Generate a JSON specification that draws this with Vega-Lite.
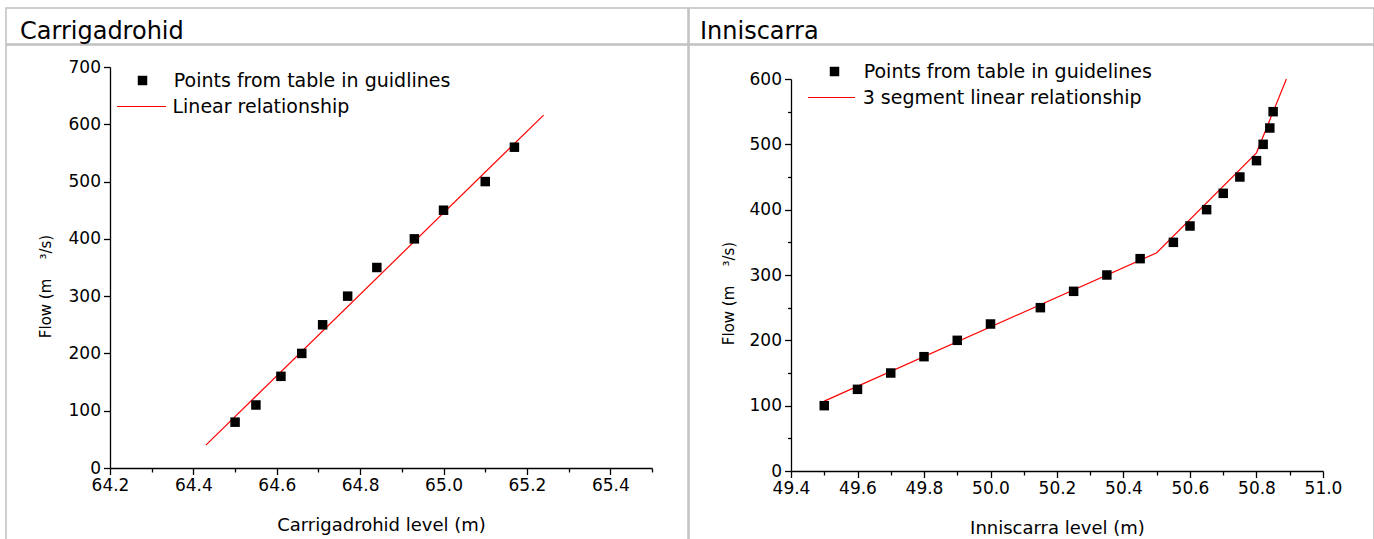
{
  "$schema": "https://vega.github.io/schema/vega-lite/v6.json",
  "background": "white",
  "padding": {"left": 5, "top": 7, "right": 0, "bottom": 0},
  "spacing": -1.5,
  "resolve": {"scale": {"color": "independent", "shape": "independent"}},
  "config": {
    "font": "DejaVu Sans",
    "view": {"stroke": "#c0c0c0", "strokeWidth": 1.5},
    "axis": {
      "grid": false,
      "domainColor": "black",
      "domainWidth": 1.3,
      "tickColor": "black",
      "tickWidth": 1.3,
      "labelColor": "black",
      "labelFontSize": 17,
      "labelPadding": 3,
      "labelOverlap": false,
      "labelFlush": false,
      "labelBound": false,
      "titleColor": "black",
      "titleFontSize": 18,
      "titleFontWeight": "normal"
    },
    "legend": {
      "orient": "none",
      "padding": 0,
      "labelFontSize": 19,
      "labelColor": "black",
      "labelLimit": 400
    },
    "title": {"fontSize": 24, "fontWeight": "normal", "color": "black", "anchor": "start", "frame": "group"}
  },
  "hconcat": [
    {
      "spacing": -1.5,
      "resolve": {"scale": {"color": "independent", "shape": "independent"}},
      "vconcat": [
        {
          "width": 682,
          "height": 36,
          "view": {"stroke": "#c0c0c0", "strokeWidth": 1.5},
          "title": {"text": "Carrigadrohid", "offset": -35.5, "dx": 14},
          "data": {"values": [{"station": "Carrigadrohid"}]},
          "mark": {"type": "text"},
          "encoding": {"text": {"value": ""}}
        },
        {
          "width": 682,
          "height": 520,
          "layer": [
            {
              "data": {"values": [
                {"level": 64.43, "flow": 40},
                {"level": 65.24, "flow": 616}
              ]},
              "mark": {"type": "line", "strokeWidth": 1.2},
              "encoding": {
                "x": {
                  "field": "level", "type": "quantitative",
                  "scale": {"domain": [64.2, 65.5], "range": [104, 646], "nice": false, "zero": false},
                  "axis": {
                    "title": "Carrigadrohid level (m)",
                    "orient": "bottom",
                    "offset": -97,
                    "values": [64.2, 64.3, 64.4, 64.5, 64.6, 64.7, 64.8, 64.9, 65.0, 65.1, 65.2, 65.3, 65.4, 65.5],
                    "format": ".1f",
                    "labelExpr": "round(datum.value * 10) % 2 == 0 ? datum.label : ''",
                    "tickSize": {"condition": {"test": "round(datum.value * 10) % 2 == 1", "value": 4}, "value": 6.5},
                    "titlePadding": 23
                  }
                },
                "y": {
                  "field": "flow", "type": "quantitative",
                  "scale": {"domain": [0, 700], "range": [423, 22], "nice": false},
                  "axis": {
                    "title": "Flow (m\u00a0\u00a0\u00a0\u00a0³/s)",
                    "orient": "left",
                    "offset": -104,
                    "values": [0, 50, 100, 150, 200, 250, 300, 350, 400, 450, 500, 550, 600, 650, 700],
                    "format": "d",
                    "labelExpr": "datum.value % 100 == 0 ? datum.label : ''",
                    "tickSize": {"condition": {"test": "datum.value % 100 != 0", "value": 3.5}, "value": 6.5},
                    "titleFontSize": 15,
                    "titleY": 241,
                    "titlePadding": 15
                  }
                },
                "color": {
                  "datum": "Linear relationship",
                  "scale": {"range": ["#ff0000"]},
                  "legend": {"title": null, "symbolType": "stroke", "symbolSize": 2401, "symbolStrokeWidth": 1.2, "labelOffset": 5.5, "legendX": 110, "legendY": 36}
                }
              }
            },
            {
              "data": {"values": [
                {"level": 64.50, "flow": 80},
                {"level": 64.55, "flow": 110},
                {"level": 64.61, "flow": 160},
                {"level": 64.66, "flow": 200},
                {"level": 64.71, "flow": 250},
                {"level": 64.77, "flow": 300},
                {"level": 64.84, "flow": 350},
                {"level": 64.93, "flow": 400},
                {"level": 65.00, "flow": 450},
                {"level": 65.10, "flow": 500},
                {"level": 65.17, "flow": 560}
              ]},
              "mark": {"type": "point", "filled": true, "color": "black", "opacity": 1, "size": 90},
              "encoding": {
                "x": {"field": "level", "type": "quantitative"},
                "y": {"field": "flow", "type": "quantitative"},
                "shape": {
                  "datum": "Points from table in guidlines",
                  "scale": {"range": ["square"]},
                  "legend": {"title": null, "symbolSize": 90, "symbolFillColor": "black", "symbolStrokeColor": "black", "labelOffset": 21.8, "legendX": 127, "legendY": 26}
                }
              }
            }
          ]
        }
      ]
    },
    {
      "spacing": -1.5,
      "resolve": {"scale": {"color": "independent", "shape": "independent"}},
      "vconcat": [
        {
          "width": 685,
          "height": 36,
          "view": {"stroke": "#c0c0c0", "strokeWidth": 1.5},
          "title": {"text": "Inniscarra", "offset": -35.5, "dx": 11},
          "data": {"values": [{"station": "Inniscarra"}]},
          "mark": {"type": "text"},
          "encoding": {"text": {"value": ""}}
        },
        {
          "width": 685,
          "height": 520,
          "layer": [
            {
              "data": {"values": [
                {"level": 49.50, "flow": 107},
                {"level": 50.50, "flow": 334},
                {"level": 50.80, "flow": 487},
                {"level": 50.89, "flow": 600}
              ]},
              "mark": {"type": "line", "strokeWidth": 1.2},
              "encoding": {
                "x": {
                  "field": "level", "type": "quantitative",
                  "scale": {"domain": [49.4, 51.0], "range": [102, 634], "nice": false, "zero": false},
                  "axis": {
                    "title": "Inniscarra level (m)",
                    "orient": "bottom",
                    "offset": -94,
                    "values": [49.4, 49.5, 49.6, 49.7, 49.8, 49.9, 50.0, 50.1, 50.2, 50.3, 50.4, 50.5, 50.6, 50.7, 50.8, 50.9, 51.0],
                    "format": ".1f",
                    "labelExpr": "round(datum.value * 10) % 2 == 0 ? datum.label : ''",
                    "tickSize": {"condition": {"test": "round(datum.value * 10) % 2 == 1", "value": 4}, "value": 6.5},
                    "titlePadding": 23
                  }
                },
                "y": {
                  "field": "flow", "type": "quantitative",
                  "scale": {"domain": [0, 600], "range": [426, 34], "nice": false},
                  "axis": {
                    "title": "Flow (m\u00a0\u00a0\u00a0\u00a0³/s)",
                    "orient": "left",
                    "offset": -102,
                    "values": [0, 50, 100, 150, 200, 250, 300, 350, 400, 450, 500, 550, 600],
                    "format": "d",
                    "labelExpr": "datum.value % 100 == 0 ? datum.label : ''",
                    "tickSize": {"condition": {"test": "datum.value % 100 != 0", "value": 3.5}, "value": 6.5},
                    "titleFontSize": 15,
                    "titleY": 248,
                    "titlePadding": 13
                  }
                },
                "color": {
                  "datum": "3 segment linear relationship",
                  "scale": {"range": ["#ff0000"]},
                  "legend": {"title": null, "symbolType": "stroke", "symbolSize": 2209, "symbolStrokeWidth": 1.2, "labelOffset": 6.7, "legendX": 118, "legendY": 28}
                }
              }
            },
            {
              "data": {"values": [
                {"level": 49.50, "flow": 100},
                {"level": 49.60, "flow": 125},
                {"level": 49.70, "flow": 150},
                {"level": 49.80, "flow": 175},
                {"level": 49.90, "flow": 200},
                {"level": 50.00, "flow": 225},
                {"level": 50.15, "flow": 250},
                {"level": 50.25, "flow": 275},
                {"level": 50.35, "flow": 300},
                {"level": 50.45, "flow": 325},
                {"level": 50.55, "flow": 350},
                {"level": 50.60, "flow": 375},
                {"level": 50.65, "flow": 400},
                {"level": 50.70, "flow": 425},
                {"level": 50.75, "flow": 450},
                {"level": 50.80, "flow": 475},
                {"level": 50.82, "flow": 500},
                {"level": 50.84, "flow": 525},
                {"level": 50.85, "flow": 550}
              ]},
              "mark": {"type": "point", "filled": true, "color": "black", "opacity": 1, "size": 90},
              "encoding": {
                "x": {"field": "level", "type": "quantitative"},
                "y": {"field": "flow", "type": "quantitative"},
                "shape": {
                  "datum": "Points from table in guidelines",
                  "scale": {"range": ["square"]},
                  "legend": {"title": null, "symbolSize": 90, "symbolFillColor": "black", "symbolStrokeColor": "black", "labelOffset": 19.7, "legendX": 136, "legendY": 17}
                }
              }
            }
          ]
        }
      ]
    }
  ]
}
